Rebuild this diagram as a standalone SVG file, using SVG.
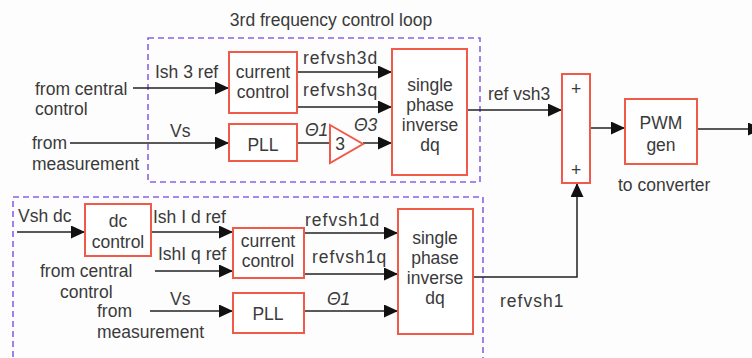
<svg xmlns="http://www.w3.org/2000/svg" width="752" height="358" viewBox="0 0 752 358">
<defs>
<marker id="ah" markerUnits="userSpaceOnUse" markerWidth="15" markerHeight="13" refX="14" refY="6.5" orient="auto"><path d="M0,0 L14,6.5 L0,13 z" fill="#111"/></marker>
<style>
text{font-family:"Liberation Sans",Arial,sans-serif;font-size:17.5px;fill:#3a3a3a}
.c{text-anchor:middle}
.ls{letter-spacing:1px}
.blk{fill:#fff;stroke:#f05a48;stroke-width:2}
.loop{fill:none;stroke:#8a62e6;stroke-width:1.6;stroke-dasharray:6 4}
.w{fill:none;stroke:#222;stroke-width:1.5}
.a{marker-end:url(#ah)}
.th{font-style:italic}
</style>
</defs>
<rect width="752" height="358" fill="#fdfdfd"/>
<g id="loop3">
<rect class="loop" x="148" y="38" width="332" height="144"/>
<text x="331" y="26" class="c">3rd frequency control loop</text>
</g>
<g id="loop1">
<rect class="loop" x="13" y="197" width="470" height="175"/>
</g>
<g id="connectors">
<path class="w a" d="M133,88 H229"/>
<path class="w a" d="M70,143 H229"/>
<path class="w a" d="M297,72 H392"/>
<path class="w a" d="M297,107 H392"/>
<path class="w" d="M297,143 H330"/>
<path class="w a" d="M363,143 H392"/>
<path class="w a" d="M467,110 H562"/>
<path class="w a" d="M590,128 H625"/>
<path class="w a" d="M697,129 H762"/>
<path class="w a" d="M17,232 H85"/>
<path class="w a" d="M151,232 H233"/>
<path class="w a" d="M155,271 H233"/>
<path class="w a" d="M150,311 H233"/>
<path class="w a" d="M304,233 H398"/>
<path class="w a" d="M304,274 H398"/>
<path class="w a" d="M304,311 H398"/>
<path class="w a" d="M473,277 H577 V183"/>
<text x="155" y="78">Ish 3 ref</text>
<text x="170" y="137">Vs</text>
<text x="303" y="64" class="ls">refvsh3d</text>
<text x="303" y="96" class="ls">refvsh3q</text>
<text x="305" y="136" class="th">Θ1</text>
<text x="354" y="131" class="th">Θ3</text>
<text x="488" y="100">ref vsh3</text>
<text x="153" y="223">Ish I d ref</text>
<text x="158" y="260">IshI q ref</text>
<text x="170" y="305">Vs</text>
<text x="305" y="226" class="ls">refvsh1d</text>
<text x="312" y="263" class="ls">refvsh1q</text>
<text x="327" y="305" class="th">Θ1</text>
<text x="500" y="307" class="ls">refvsh1</text>
</g>
<g id="in-central3">
<text x="35" y="95">from central</text>
<text x="35" y="115">control</text>
</g>
<g id="in-meas3">
<text x="32" y="149">from</text>
<text x="32" y="170">measurement</text>
</g>
<g id="cc3">
<rect class="blk" x="229" y="52" width="68" height="61"/>
<text x="263" y="78" class="c">current</text>
<text x="263" y="98" class="c">control</text>
</g>
<g id="pll3">
<rect class="blk" x="229" y="124" width="68" height="37"/>
<text x="263" y="151" class="c">PLL</text>
</g>
<g id="gain3">
<polygon points="330,125 363,144 330,163" fill="#fff" stroke="#f05a48" stroke-width="2"/>
<text x="340" y="150" class="c">3</text>
</g>
<g id="dq3">
<rect class="blk" x="392" y="49" width="75" height="126"/>
<text x="430" y="91" class="c">single</text>
<text x="430" y="111" class="c">phase</text>
<text x="430" y="131" class="c">inverse</text>
<text x="430" y="151" class="c">dq</text>
</g>
<g id="sum">
<rect class="blk" x="562" y="74" width="28" height="109"/>
<text x="576" y="95" class="c">+</text>
<text x="576" y="176" class="c">+</text>
</g>
<g id="pwm">
<rect class="blk" x="625" y="99" width="72" height="65"/>
<text x="661" y="129" class="c">PWM</text>
<text x="661" y="151" class="c">gen</text>
<text x="618" y="191">to converter</text>
</g>
<g id="in-vshdc">
<text x="18" y="222">Vsh dc</text>
</g>
<g id="dcctrl">
<rect class="blk" x="85" y="204" width="66" height="52"/>
<text x="118" y="227" class="c">dc</text>
<text x="118" y="248" class="c">control</text>
</g>
<g id="in-central1">
<text x="40" y="277">from central</text>
<text x="60" y="298">control</text>
</g>
<g id="in-meas1">
<text x="97" y="317">from</text>
<text x="97" y="338">measurement</text>
</g>
<g id="cc1">
<rect class="blk" x="233" y="228" width="71" height="50"/>
<text x="268" y="247" class="c">current</text>
<text x="268" y="267" class="c">control</text>
</g>
<g id="pll1">
<rect class="blk" x="233" y="293" width="71" height="40"/>
<text x="268" y="320" class="c">PLL</text>
</g>
<g id="dq1">
<rect class="blk" x="398" y="209" width="75" height="125"/>
<text x="435" y="244" class="c">single</text>
<text x="435" y="264" class="c">phase</text>
<text x="435" y="284" class="c">inverse</text>
<text x="435" y="304" class="c">dq</text>
</g>
</svg>
